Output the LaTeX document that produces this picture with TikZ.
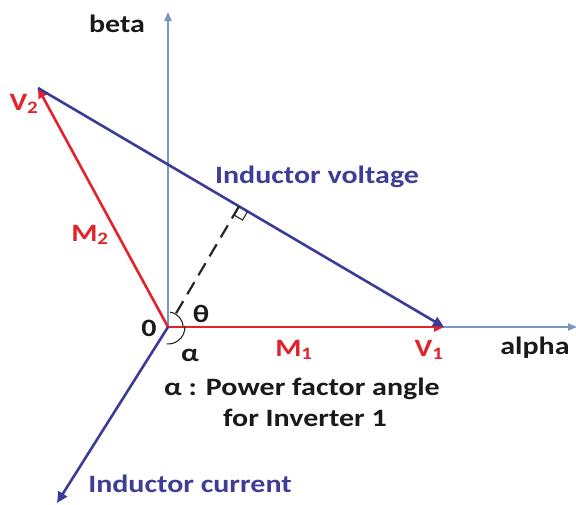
\documentclass[tikz,border=0pt]{standalone}
\usepackage{fontspec}
\setmainfont{Carlito}
\usetikzlibrary{arrows.meta,calc}
\definecolor{vred}{HTML}{E3232C}
\definecolor{vblue}{HTML}{3B3B98}
\definecolor{axisc}{HTML}{7C97BD}
\definecolor{tblue}{HTML}{3E3E96}
\definecolor{tblack}{HTML}{1A1A1A}
\begin{document}
\begin{tikzpicture}[x=1pt,y=-1pt,
  lbl/.style={font=\fontsize{25}{29}\selectfont\bfseries, xscale=1.2, inner sep=0pt, anchor=center, text=tblack},
  axisline/.style={axisc, line width=2pt, -{Triangle[length=9pt,width=7pt]}},
  redvec/.style={vred, line width=2.6pt, -{Triangle[length=10pt,width=9pt]}},
  bluevec/.style={vblue, line width=2.6pt, -{Triangle[length=11pt,width=10pt]}},
  anglemark/.style={black!85, line width=1.1pt}
]
\useasboundingbox (0,0) rectangle (576,504);
\coordinate (O) at (168,327);
\coordinate (betaend) at (168,12);
\coordinate (alphaend) at (577,327);
\coordinate (V1pt) at (444,327);
\coordinate (V2pt) at (38,88);
\coordinate (Iend) at (57,503);
\coordinate (F) at ($(V2pt)!(O)!(V1pt)$);
\coordinate (Ra) at ($(F)!10pt!(O)$);
\coordinate (Rb) at ($(F)!10pt!(V1pt)$);
\coordinate (Rc) at ($(Ra)+(Rb)-(F)$);
\coordinate (Dstart) at ($(O)!16pt!(F)$);
% axes
\draw[axisline] (O) -- (betaend);
\draw[axisline] (O) -- (alphaend);
% red vectors
\draw[redvec] (O) -- (V2pt);
\draw[redvec] (O) -- (V1pt);
% blue vectors
\draw[bluevec] (V2pt) -- (V1pt);
\draw[bluevec] (O) -- (Iend);
% dashed perpendicular
\draw[black!85, line width=2.2pt, dash pattern=on 14pt off 8pt] (Dstart) -- (F);
\draw[anglemark] (Ra) -- (Rc) -- (Rb);
% angle arcs
\draw[anglemark] ($(O)+(82:15pt)$) arc[start angle=82, end angle=0, radius=15pt];
\draw[anglemark] ($(O)+(4:17pt)$) arc[start angle=4, end angle=-95, radius=17pt];
% labels
\node[lbl] (tbeta) at (117,24) {beta};
\node[lbl, text=vred] (tV2) at (24,104) {V\textsubscript{2}};
\node[lbl, text=tblue] (tvolt) at (317,177) {Inductor voltage};
\node[lbl, text=vred] (tM2) at (90,235) {M\textsubscript{2}};
\node[lbl] (ttheta) at (201,314) {θ};
\node[lbl] (tzero) at (149,328) {0};
\node[lbl] (talpha) at (190,355) {α};
\node[lbl, text=vred] (tM1) at (294,350) {M\textsubscript{1}};
\node[lbl, text=vred] (tV1) at (429,350) {V\textsubscript{1}};
\node[lbl] (talphaax) at (535,348) {alpha};
\node[lbl] (tpf) at (302,389) {α : Power factor angle};
\node[lbl] (tinv) at (305,418) {for Inverter 1};
\node[lbl, text=tblue] (tcur) at (190,484) {Inductor current};
\end{tikzpicture}
\end{document}
